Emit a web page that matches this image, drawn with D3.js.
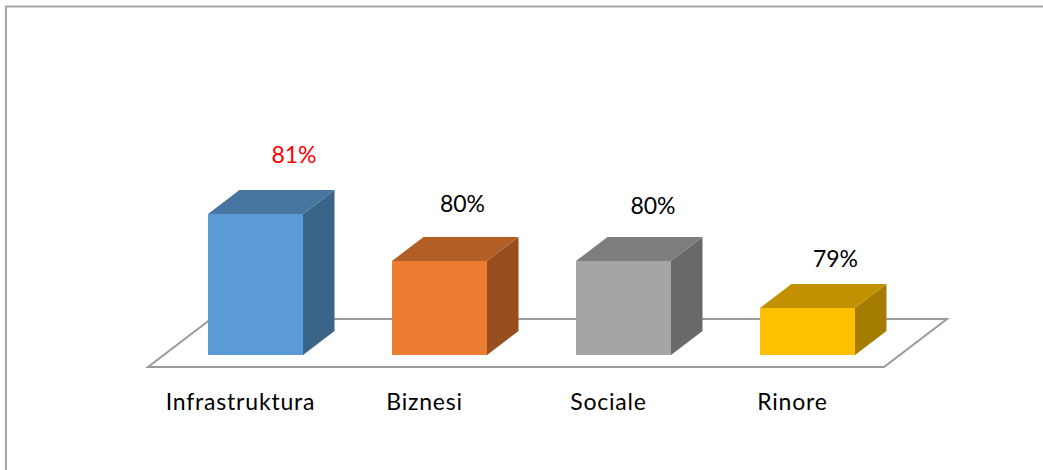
<!DOCTYPE html>
<html>
<head>
<meta charset="utf-8">
<script src="https://cdn.jsdelivr.net/npm/d3@7"></script>
<style>
  html, body { margin: 0; padding: 0; background: #fff; }
  svg { display: block; }
</style>
</head>
<body>
<script>
const categories = ['Infrastruktura', 'Biznesi', 'Sociale', 'Rinore'];
const values = [81, 80, 80, 79];
const valueLabels = ['81%', '80%', '80%', '79%'];
const labelColors = ['#ff0000', '#000000', '#000000', '#000000'];
const frontColors = ['#5b9bd5', '#ed7d31', '#a5a5a5', '#ffc000'];
const topColors = ['#4675a1', '#b25e25', '#7d7d7d', '#c19100'];
const sideColors = ['#3a6589', '#974f1f', '#696969', '#a47c00'];

const w = 1043,
  h = 470,
  depthX = 31.5,
  depthY = 24;

// value labels were hand placed in the original, so they do not sit on the bars
const labelShiftX = [38.5, 23, 29.5, 28];
const labelShiftY = [-51, -49, -47, -41];

const xScale = d3.scaleBand()
  .domain(categories)
  .range([208, 855])
  .paddingInner(0.4837)
  .paddingOuter(0);

const yScale = d3.scaleLinear()
  .domain([78, 81])
  .range([355, 214]);

const svg = d3.select('body')
  .append('svg')
  .attr('width', w)
  .attr('height', h);

// outer frame, open on the right and at the bottom
svg.append('path')
  .attr('d', 'M6,470V6.5H1043')
  .attr('fill', 'none')
  .attr('stroke', '#a6a6a6')
  .attr('stroke-width', 2);

// floor
const floorLeft = 148,
  floorRight = 884,
  floorFront = 367,
  floorBack = 319,
  floorSkew = 63;

svg.append('path')
  .attr('d', `M${floorLeft},${floorFront}H${floorRight}L${floorRight + floorSkew},${floorBack}H${floorLeft + floorSkew}Z`)
  .attr('fill', '#fff')
  .attr('stroke', '#9a9a9a')
  .attr('stroke-width', 2);

const bars = svg.selectAll('.bar')
  .data(categories)
  .enter()
  .append('g')
  .classed('bar', true);

const bw = xScale.bandwidth();

bars.append('path')
  .attr('fill', (d, i) => sideColors[i])
  .attr('d', (d, i) => {
    const x = xScale(d) + bw, y0 = yScale(78), y1 = yScale(values[i]);
    return `M${x},${y0}L${x + depthX},${y0 - depthY}V${y1 - depthY}L${x},${y1}Z`;
  });

bars.append('path')
  .attr('fill', (d, i) => topColors[i])
  .attr('d', (d, i) => {
    const x = xScale(d), y = yScale(values[i]);
    return `M${x},${y}L${x + depthX},${y - depthY}H${x + bw + depthX}L${x + bw},${y}Z`;
  });

bars.append('rect')
  .attr('x', d => xScale(d))
  .attr('y', (d, i) => yScale(values[i]))
  .attr('width', bw)
  .attr('height', (d, i) => yScale(78) - yScale(values[i]))
  .attr('fill', (d, i) => frontColors[i]);

bars.append('text')
  .attr('x', (d, i) => xScale(d) + bw / 2 + labelShiftX[i])
  .attr('y', (d, i) => yScale(values[i]) + labelShiftY[i])
  .attr('text-anchor', 'middle')
  .attr('font-family', 'Lato, sans-serif')
  .attr('font-size', 23)
  .attr('fill', (d, i) => labelColors[i])
  .text((d, i) => valueLabels[i]);

// category labels sit a little left of their bars
const xAxis = d3.axisBottom()
  .scale(xScale)
  .tickSize(0)
  .tickPadding(0);

const axisG = svg.append('g')
  .classed('x axis', true)
  .attr('transform', 'translate(-15, 394)')
  .call(xAxis);

axisG.select('.domain').remove();

axisG.selectAll('text')
  .attr('font-family', 'Lato, sans-serif')
  .attr('font-size', 23)
  .attr('letter-spacing', 0.8)
  .attr('fill', '#000');
</script>
</body>
</html>
